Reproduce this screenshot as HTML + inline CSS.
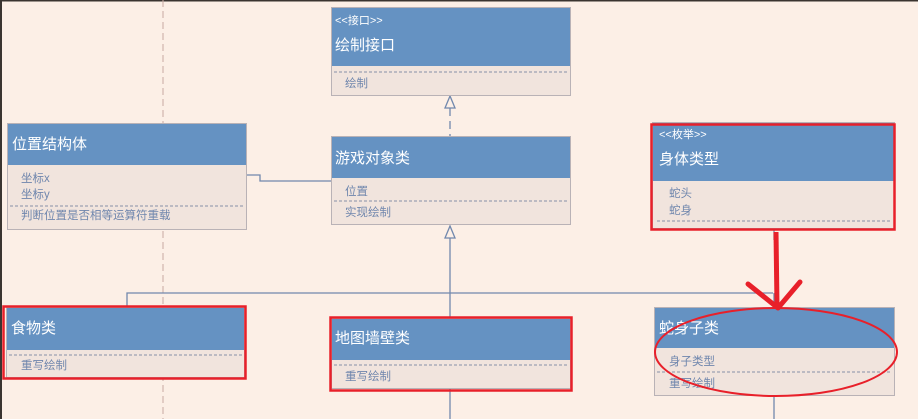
<!DOCTYPE html>
<html><head><meta charset="utf-8"><style>
body{margin:0;width:918px;height:419px;overflow:hidden;background:#fcefe6;font-family:"Liberation Sans","Noto Sans CJK SC",sans-serif;}
svg{display:block}
.t{fill:#fff;font-size:15px}
.s{fill:#fff;font-size:11px}
.b{fill:#6f86ad;font-size:11.5px}
</style></head><body>
<svg width="918" height="419" xmlns="http://www.w3.org/2000/svg">
<rect x="0" y="0" width="918" height="1.5" fill="#3a3430"/>
<rect x="0" y="0" width="2" height="419" fill="#3a3430"/>
<line x1="163" y1="0" x2="163" y2="419" stroke="#c9aaa2" stroke-dasharray="7,4"/>
<g stroke="#7188ad" stroke-width="1.3" fill="none">
<line x1="450" y1="108" x2="450" y2="136" stroke-dasharray="8,5"/>
<path d="M450 96 L445 108 L455 108 Z" fill="#fcefe6"/>
<path d="M450 226 L445 238 L455 238 Z" fill="#fcefe6"/>
<line x1="450" y1="238" x2="450" y2="318"/>
<polyline points="127,307 127,293 773,293"/>
<line x1="774" y1="293" x2="774" y2="308"/>
<polyline points="246,175 260,175 260,181 331,181"/>
<line x1="450" y1="388" x2="450" y2="419"/>
<line x1="774" y1="395" x2="774" y2="419"/>
<line x1="774" y1="227" x2="774" y2="240"/>
</g>
<g stroke="#b9b2b6" stroke-width="1">
<rect x="331.5" y="7.5" width="239" height="88" fill="#f1e4dd"/>
<rect x="331.5" y="136.5" width="239" height="88" fill="#f1e4dd"/>
<rect x="7.5" y="123.5" width="239" height="106" fill="#f1e4dd"/>
<rect x="652.5" y="122.5" width="242" height="106" fill="#f1e4dd"/>
<rect x="654.5" y="307.5" width="240" height="88" fill="#f1e4dd"/>
<rect x="6.5" y="307.5" width="238" height="70" fill="#f1e4dd"/>
<rect x="331.5" y="318.5" width="239" height="70" fill="#f1e4dd"/>
</g>
<g fill="#6592c2">
<rect x="332" y="8" width="238" height="58"/>
<rect x="332" y="137" width="238" height="41"/>
<rect x="8" y="124" width="238" height="41"/>
<rect x="653" y="123" width="241" height="58"/>
<rect x="655" y="308" width="239" height="40"/>
<rect x="7" y="308" width="237" height="42"/>
<rect x="332" y="319" width="238" height="41"/>
</g>
<g stroke="#8690a8" stroke-dasharray="3,2" stroke-width="1">
<line x1="334" y1="72" x2="568" y2="72"/>
<line x1="334" y1="201" x2="568" y2="201"/>
<line x1="10" y1="206" x2="244" y2="206"/>
<line x1="657" y1="221" x2="891" y2="221"/>
<line x1="657" y1="372" x2="891" y2="372"/>
<line x1="9" y1="355" x2="242" y2="355"/>
<line x1="334" y1="365" x2="568" y2="365"/>
</g>
<text x="335" y="24" class="s">&lt;&lt;接口&gt;&gt;</text>
<text x="335" y="50" class="t">绘制接口</text>
<text x="345" y="87" class="b">绘制</text>
<text x="335" y="163" class="t">游戏对象类</text>
<text x="345" y="195" class="b">位置</text>
<text x="345" y="216" class="b">实现绘制</text>
<text x="12" y="149" class="t">位置结构体</text>
<text x="21" y="182" class="b">坐标x</text>
<text x="21" y="198" class="b">坐标y</text>
<text x="21" y="219" class="b">判断位置是否相等运算符重载</text>
<text x="659" y="138" class="s">&lt;&lt;枚举&gt;&gt;</text>
<text x="659" y="164" class="t">身体类型</text>
<text x="669" y="197" class="b">蛇头</text>
<text x="669" y="214" class="b">蛇身</text>
<text x="659" y="333" class="t">蛇身子类</text>
<text x="669" y="365" class="b">身子类型</text>
<text x="669" y="387" class="b">重写绘制</text>
<text x="11" y="333" class="t">食物类</text>
<text x="21" y="369" class="b">重写绘制</text>
<text x="335" y="343" class="t">地图墙壁类</text>
<text x="345" y="380" class="b">重写绘制</text>
<g stroke="#e8202a" fill="none">
<rect x="651.5" y="124.5" width="243" height="105" stroke-width="2.5"/>
<rect x="3.5" y="306.5" width="242" height="72" stroke-width="2.5"/>
<rect x="330.5" y="317.5" width="241" height="73" stroke-width="2.5"/>
<ellipse cx="776" cy="352" rx="121" ry="44" stroke-width="2"/>
<line x1="776" y1="232" x2="777" y2="306" stroke-width="5"/>
<polyline points="748,284 778,308 800,282" stroke-width="5" stroke-linejoin="round" stroke-linecap="round"/>
</g>
</svg>
</body></html>
